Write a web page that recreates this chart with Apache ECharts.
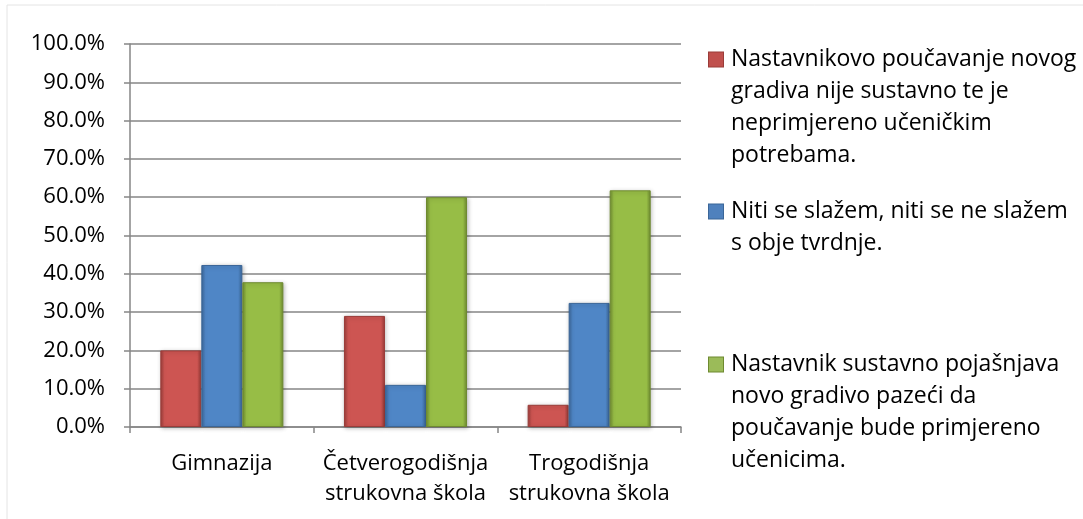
<!DOCTYPE html>
<html>
<head>
<meta charset="utf-8">
<script src="https://cdn.jsdelivr.net/npm/echarts@6/dist/echarts.min.js"></script>
<style>
    html, body { margin: 0; padding: 0; background: #fff; }
    #chart { width: 1083px; height: 519px; }
</style>
</head>
<body>
<div id="chart"></div>
<script>
// 数据
var categories = ['Gimnazija', 'Četverogodišnja\nstrukovna škola', 'Trogodišnja\nstrukovna škola'];
var seriesNames = [
    'Nastavnikovo poučavanje novog gradiva nije sustavno te je neprimjereno učeničkim potrebama.',
    'Niti se slažem, niti se ne slažem s obje tvrdnje.',
    'Nastavnik sustavno pojašnjava novo gradivo pazeći da poučavanje bude primjereno učenicima.'
];
var legendLines = [
    ['Nastavnikovo poučavanje novog', 'gradiva nije sustavno te je', 'neprimjereno učeničkim', 'potrebama.'],
    ['Niti se slažem, niti se ne slažem', 's obje tvrdnje.'],
    ['Nastavnik sustavno pojašnjava', 'novo gradivo pazeći da', 'poučavanje bude primjereno', 'učenicima.']
];
var nijeSustavno = [20.0, 29.0, 5.8];
var niti = [42.3, 11.0, 32.4];
var sustavno = [37.8, 60.0, 61.8];
var yTicks = [0, 10, 20, 30, 40, 50, 60, 70, 80, 90, 100];

// 颜色: [边缘, 中间, 图例]
var colors = [
    ['#9a3c39', '#cd5552', '#c0504d'],
    ['#3b6698', '#4f86c6', '#4f81bd'],
    ['#6e8a30', '#97bd46', '#9bbb59']
];

function barColor(c) {
    return new echarts.graphic.LinearGradient(0, 0, 1, 0, [
        { offset: 0, color: c[0] },
        { offset: 0.1, color: c[1] },
        { offset: 0.9, color: c[1] },
        { offset: 1, color: c[0] }
    ]);
}

function makeSeries(i, data) {
    return {
        name: seriesNames[i],
        type: 'bar',
        data: data,
        barGap: '0%',
        barCategoryGap: '33%',
        itemStyle: {
            color: barColor(colors[i]),
            borderColor: colors[i][0],
            borderWidth: 1,
            shadowColor: 'rgba(0,0,0,0.25)',
            shadowBlur: 4,
            shadowOffsetX: 1,
            shadowOffsetY: 1
        }
    };
}

// 图例 (每个系列单独一个, 图标放在第一行)
var legendTops = [48, 200, 353];
function makeLegend(i) {
    var rich = {
        sq: { width: 14, height: 14, backgroundColor: colors[i][2], borderColor: colors[i][0], borderWidth: 1 },
        g: { width: 8 },
        sp: { width: 22 },
        t: { fontSize: 23, lineHeight: 32, color: '#000', fontFamily: 'Open Sans' }
    };
    return {
        show: true,
        orient: 'vertical',
        left: 703,
        top: legendTops[i],
        padding: 0,
        itemWidth: 0,
        itemHeight: 0,
        icon: 'rect',
        selectedMode: false,
        data: [seriesNames[i]],
        formatter: function () {
            var lines = legendLines[i];
            var s = '{sq|}{g|}{t|' + lines[0] + '}';
            for (var k = 1; k < lines.length; k++) {
                s += '\n{sp|}{t|' + lines[k] + '}';
            }
            return s;
        },
        textStyle: { rich: rich }
    };
}

var chart = echarts.init(document.getElementById('chart'));
var option = {
    backgroundColor: '#fff',
    animation: false,
    graphic: [{
        type: 'rect',
        shape: { x: 7, y: 5, width: 1200, height: 700 },
        style: { fill: 'none', stroke: '#e4e4e4', lineWidth: 1 },
        silent: true
    }],
    legend: [makeLegend(0), makeLegend(1), makeLegend(2)],
    grid: { left: 130, right: 402, top: 44, bottom: 92 },
    xAxis: {
        type: 'category',
        data: categories,
        axisLine: { lineStyle: { color: '#868686', width: 1.5 } },
        axisTick: { show: true, length: 6, alignWithLabel: false, lineStyle: { color: '#868686', width: 1.5 } },
        axisLabel: {
            color: '#000',
            fontSize: 22,
            fontFamily: 'Open Sans',
            lineHeight: 30,
            margin: 22,
            interval: 0
        }
    },
    yAxis: {
        type: 'value',
        min: yTicks[0],
        max: yTicks[yTicks.length - 1],
        interval: 10,
        axisLine: { show: true, lineStyle: { color: '#868686', width: 1.5 } },
        axisTick: { show: true, length: 6, lineStyle: { color: '#868686', width: 1.5 } },
        splitLine: { lineStyle: { color: '#868686', width: 1.5 } },
        axisLabel: {
            color: '#000',
            fontSize: 22,
            fontFamily: 'Open Sans',
            margin: 25,
            formatter: function (v) { return v.toFixed(1) + '%'; }
        }
    },
    series: [
        makeSeries(0, nijeSustavno),
        makeSeries(1, niti),
        makeSeries(2, sustavno)
    ]
};
chart.setOption(option);
</script>
</body>
</html>
